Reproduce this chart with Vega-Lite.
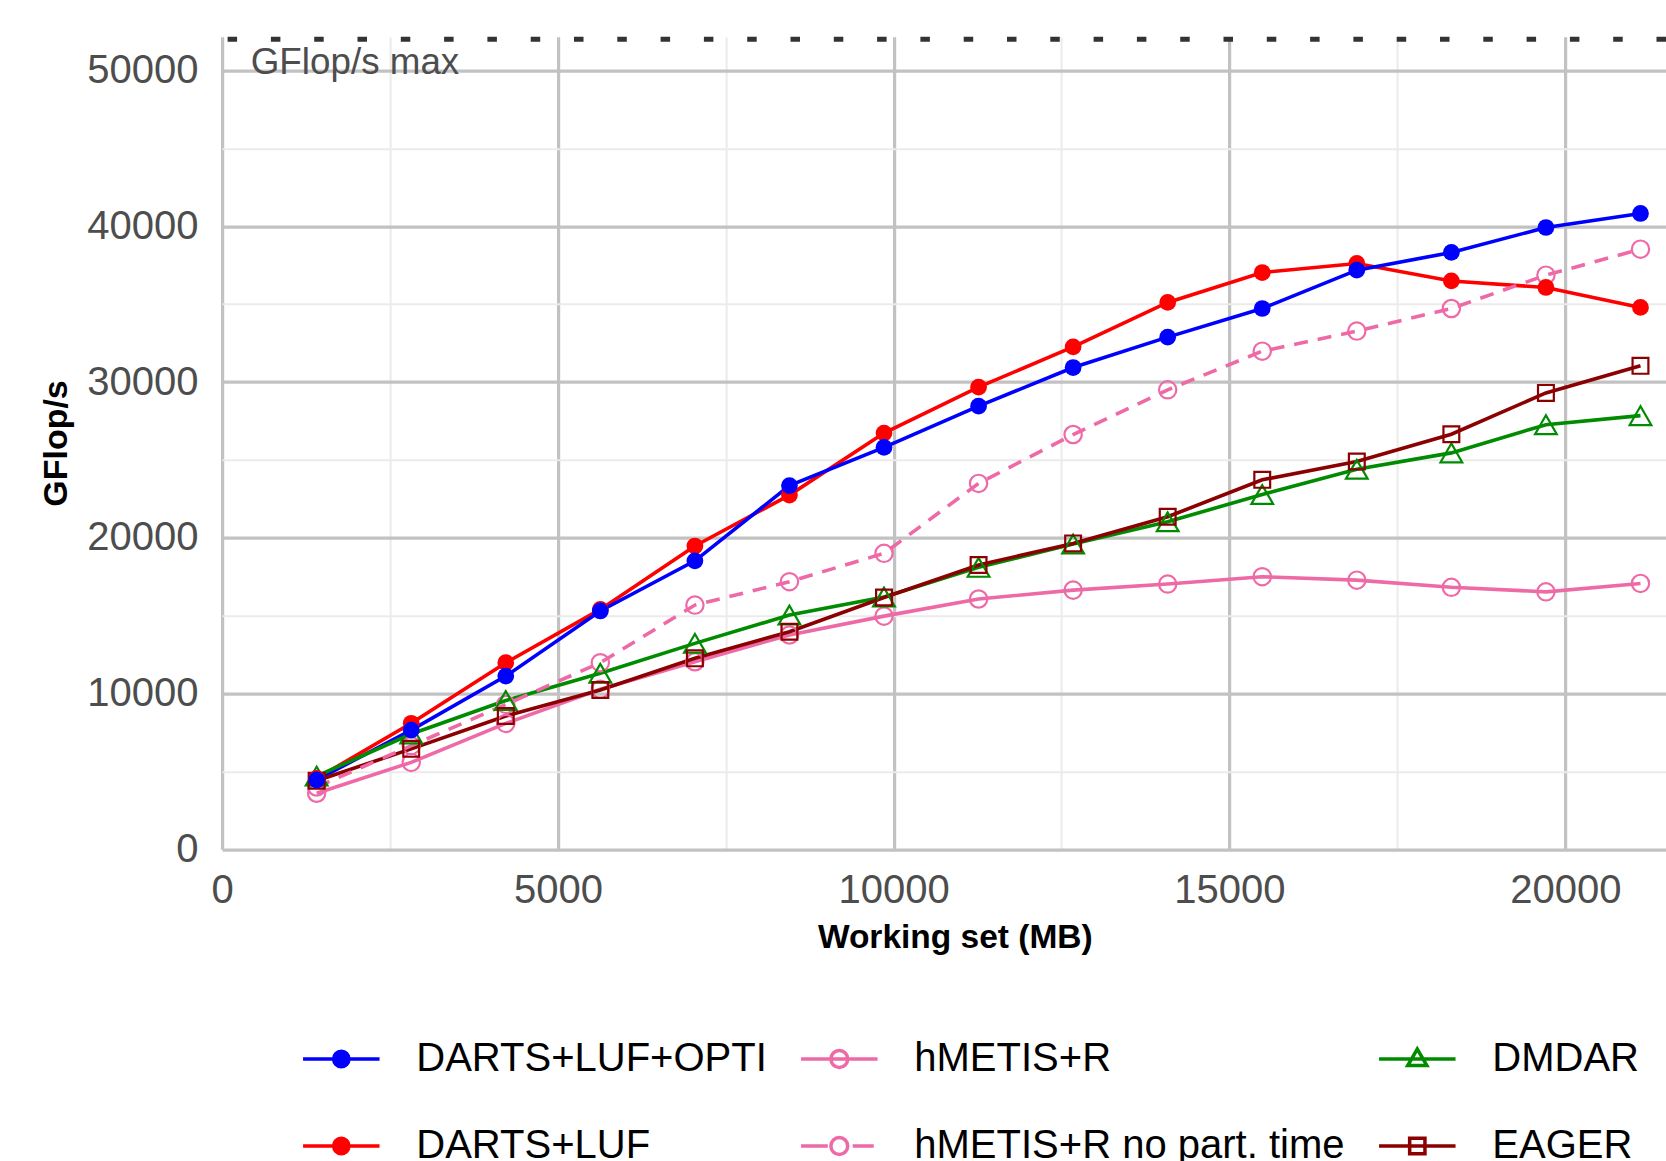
{
  "$schema": "https://vega.github.io/schema/vega-lite/v6.json",
  "autosize": {"type": "none"},
  "padding": {"left": 222.1, "top": 36.7, "right": 0, "bottom": 311.7},
  "width": 1443.9,
  "height": 812.6,
  "background": "white",
  "config": {
    "font": "Liberation Sans",
    "view": {"stroke": null}
  },
  "layer": [
    {
      "data": {"values": [{"label": "GFlop/s max", "max": 52000}]},
      "mark": {"type": "rule", "color": "#333333", "strokeWidth": 5, "strokeDash": [9.5, 33.8]},
      "encoding": {"y": {"field": "max", "type": "quantitative"}}
    },
    {
      "data": {"values": [{"label": "GFlop/s max", "max": 52000}]},
      "mark": {"type": "text", "align": "left", "baseline": "top", "dx": 28.6, "dy": 5.5, "fontSize": 36.8, "color": "#4D4D4D", "font": "Liberation Sans"},
      "encoding": {
        "x": {"datum": 0, "type": "quantitative"},
        "y": {"field": "max", "type": "quantitative"},
        "text": {"field": "label"}
      }
    },
    {
      "data": {"values": [
        {"series": "DARTS+LUF", "x": 1408, "y": 4550},
        {"series": "DARTS+LUF", "x": 2816, "y": 8090},
        {"series": "DARTS+LUF", "x": 4224, "y": 11980},
        {"series": "DARTS+LUF", "x": 5632, "y": 15400},
        {"series": "DARTS+LUF", "x": 7040, "y": 19470},
        {"series": "DARTS+LUF", "x": 8448, "y": 22740},
        {"series": "DARTS+LUF", "x": 9856, "y": 26720},
        {"series": "DARTS+LUF", "x": 11264, "y": 29670},
        {"series": "DARTS+LUF", "x": 12672, "y": 32260},
        {"series": "DARTS+LUF", "x": 14080, "y": 35110},
        {"series": "DARTS+LUF", "x": 15488, "y": 37030},
        {"series": "DARTS+LUF", "x": 16896, "y": 37610},
        {"series": "DARTS+LUF", "x": 18304, "y": 36490},
        {"series": "DARTS+LUF", "x": 19712, "y": 36070},
        {"series": "DARTS+LUF", "x": 21120, "y": 34790},
        {"series": "DARTS+LUF+OPTI", "x": 1408, "y": 4450},
        {"series": "DARTS+LUF+OPTI", "x": 2816, "y": 7650},
        {"series": "DARTS+LUF+OPTI", "x": 4224, "y": 11120},
        {"series": "DARTS+LUF+OPTI", "x": 5632, "y": 15300},
        {"series": "DARTS+LUF+OPTI", "x": 7040, "y": 18520},
        {"series": "DARTS+LUF+OPTI", "x": 8448, "y": 23350},
        {"series": "DARTS+LUF+OPTI", "x": 9856, "y": 25800},
        {"series": "DARTS+LUF+OPTI", "x": 11264, "y": 28450},
        {"series": "DARTS+LUF+OPTI", "x": 12672, "y": 30930},
        {"series": "DARTS+LUF+OPTI", "x": 14080, "y": 32880},
        {"series": "DARTS+LUF+OPTI", "x": 15488, "y": 34720},
        {"series": "DARTS+LUF+OPTI", "x": 16896, "y": 37180},
        {"series": "DARTS+LUF+OPTI", "x": 18304, "y": 38320},
        {"series": "DARTS+LUF+OPTI", "x": 19712, "y": 39920},
        {"series": "DARTS+LUF+OPTI", "x": 21120, "y": 40820},
        {"series": "hMETIS+R", "x": 1408, "y": 3600},
        {"series": "hMETIS+R", "x": 2816, "y": 5580},
        {"series": "hMETIS+R", "x": 4224, "y": 8080},
        {"series": "hMETIS+R", "x": 5632, "y": 10270},
        {"series": "hMETIS+R", "x": 7040, "y": 12040},
        {"series": "hMETIS+R", "x": 8448, "y": 13760},
        {"series": "hMETIS+R", "x": 9856, "y": 14970},
        {"series": "hMETIS+R", "x": 11264, "y": 16070},
        {"series": "hMETIS+R", "x": 12672, "y": 16640},
        {"series": "hMETIS+R", "x": 14080, "y": 17030},
        {"series": "hMETIS+R", "x": 15488, "y": 17500},
        {"series": "hMETIS+R", "x": 16896, "y": 17280},
        {"series": "hMETIS+R", "x": 18304, "y": 16820},
        {"series": "hMETIS+R", "x": 19712, "y": 16530},
        {"series": "hMETIS+R", "x": 21120, "y": 17070},
        {"series": "hMETIS+R no part. time", "x": 1408, "y": 4000},
        {"series": "hMETIS+R no part. time", "x": 2816, "y": 6650},
        {"series": "hMETIS+R no part. time", "x": 4224, "y": 9300},
        {"series": "hMETIS+R no part. time", "x": 5632, "y": 11980},
        {"series": "hMETIS+R no part. time", "x": 7040, "y": 15680},
        {"series": "hMETIS+R no part. time", "x": 8448, "y": 17180},
        {"series": "hMETIS+R no part. time", "x": 9856, "y": 19000},
        {"series": "hMETIS+R no part. time", "x": 11264, "y": 23490},
        {"series": "hMETIS+R no part. time", "x": 12672, "y": 26630},
        {"series": "hMETIS+R no part. time", "x": 14080, "y": 29500},
        {"series": "hMETIS+R no part. time", "x": 15488, "y": 31980},
        {"series": "hMETIS+R no part. time", "x": 16896, "y": 33270},
        {"series": "hMETIS+R no part. time", "x": 18304, "y": 34720},
        {"series": "hMETIS+R no part. time", "x": 19712, "y": 36860},
        {"series": "hMETIS+R no part. time", "x": 21120, "y": 38530},
        {"series": "DMDAR", "x": 1408, "y": 4700},
        {"series": "DMDAR", "x": 2816, "y": 7400},
        {"series": "DMDAR", "x": 4224, "y": 9550},
        {"series": "DMDAR", "x": 5632, "y": 11300},
        {"series": "DMDAR", "x": 7040, "y": 13220},
        {"series": "DMDAR", "x": 8448, "y": 15040},
        {"series": "DMDAR", "x": 9856, "y": 16200},
        {"series": "DMDAR", "x": 11264, "y": 18100},
        {"series": "DMDAR", "x": 12672, "y": 19600},
        {"series": "DMDAR", "x": 14080, "y": 21030},
        {"series": "DMDAR", "x": 15488, "y": 22780},
        {"series": "DMDAR", "x": 16896, "y": 24400},
        {"series": "DMDAR", "x": 18304, "y": 25450},
        {"series": "DMDAR", "x": 19712, "y": 27260},
        {"series": "DMDAR", "x": 21120, "y": 27840},
        {"series": "EAGER", "x": 1408, "y": 4400},
        {"series": "EAGER", "x": 2816, "y": 6450},
        {"series": "EAGER", "x": 4224, "y": 8560},
        {"series": "EAGER", "x": 5632, "y": 10230},
        {"series": "EAGER", "x": 7040, "y": 12260},
        {"series": "EAGER", "x": 8448, "y": 13970},
        {"series": "EAGER", "x": 9856, "y": 16170},
        {"series": "EAGER", "x": 11264, "y": 18250},
        {"series": "EAGER", "x": 12672, "y": 19640},
        {"series": "EAGER", "x": 14080, "y": 21350},
        {"series": "EAGER", "x": 15488, "y": 23720},
        {"series": "EAGER", "x": 16896, "y": 24900},
        {"series": "EAGER", "x": 18304, "y": 26650},
        {"series": "EAGER", "x": 19712, "y": 29300},
        {"series": "EAGER", "x": 21120, "y": 31040}
      ]},
      "encoding": {
        "x": {
          "field": "x", "type": "quantitative",
          "scale": {"domain": [0, 21500], "nice": false, "zero": false},
          "axis": {
            "values": [0, 2500, 5000, 7500, 10000, 12500, 15000, 17500, 20000],
            "format": "d",
            "labelExpr": "datum.value % 5000 === 0 ? datum.label : ''",
            "grid": true,
            "gridColor": {"condition": {"test": "datum.value % 5000 === 0", "value": "#C2C2C2"}, "value": "#EBEBEB"},
            "gridWidth": {"condition": {"test": "datum.value % 5000 === 0", "value": 3.2}, "value": 2},
            "domain": false, "ticks": false, "tickSize": 0,
            "labelFlush": false, "labelOverlap": false,
            "labelFontSize": 40, "labelColor": "#4D4D4D", "labelPadding": 21, "labelFont": "Liberation Sans",
            "title": "Working set (MB)", "titleFont": "Liberation Sans", "titleFontSize": 33.5, "titleFontWeight": "bold", "titleColor": "#000000",
            "titleX": 732.7, "titleY": 97.7, "titleBaseline": "alphabetic", "titleAlign": "center"
          }
        },
        "y": {
          "field": "y", "type": "quantitative",
          "scale": {"domain": [0, 52170], "nice": false, "zero": false},
          "axis": {
            "values": [0, 5000, 10000, 15000, 20000, 25000, 30000, 35000, 40000, 45000, 50000],
            "format": "d",
            "labelExpr": "datum.value % 10000 === 0 ? datum.label : ''",
            "grid": true,
            "gridColor": {"condition": {"test": "datum.value % 10000 === 0", "value": "#C2C2C2"}, "value": "#EBEBEB"},
            "gridWidth": {"condition": {"test": "datum.value % 10000 === 0", "value": 3.2}, "value": 2},
            "domain": false, "ticks": false, "tickSize": 0,
            "labelFlush": false, "labelOverlap": false,
            "labelFontSize": 40, "labelColor": "#4D4D4D", "labelPadding": 24, "labelFont": "Liberation Sans",
            "title": "GFlop/s", "titleFont": "Liberation Sans", "titleFontSize": 34, "titleFontWeight": "bold", "titleColor": "#000000",
            "titleX": -156.1, "titleY": 406.3, "titleAngle": 270, "titleBaseline": "alphabetic", "titleAlign": "center"
          }
        },
        "color": {
          "field": "series", "type": "nominal",
          "scale": {
            "domain": ["DARTS+LUF+OPTI", "DARTS+LUF", "hMETIS+R", "hMETIS+R no part. time", "DMDAR", "EAGER"],
            "range": ["#0000FF", "#FF0000", "#EE6AA7", "#EE6AA7", "#008B00", "#8B0000"]
          },
          "legend": {
            "orient": "none", "legendX": 79.2, "legendY": 982.3,
            "columns": 3, "title": null, "padding": 0,
            "symbolSize": 5852, "symbolStrokeWidth": 3.5, "symbolOpacity": 1,
            "labelFont": "Liberation Sans", "labelFontSize": 40, "labelColor": "#000000", "labelLimit": 2000,
            "labelOffset": 35, "columnPadding": 26, "rowPadding": 27
          }
        }
      },
      "layer": [
        {
          "transform": [{"filter": "datum.series !== 'hMETIS+R no part. time'"}],
          "mark": {"type": "line", "strokeWidth": 3.6}
        },
        {
          "transform": [{"filter": "datum.series === 'hMETIS+R no part. time'"}],
          "mark": {"type": "line", "strokeWidth": 3.6, "strokeDash": [14, 10]}
        },
        {
          "transform": [{"filter": "datum.series === 'hMETIS+R' || datum.series === 'hMETIS+R no part. time'"}],
          "mark": {"type": "point", "filled": false, "shape": "circle", "size": 300, "strokeWidth": 2.2, "opacity": 1}
        },
        {
          "transform": [{"filter": "datum.series === 'DMDAR'"}],
          "mark": {"type": "point", "filled": false, "shape": "triangle-up", "size": 470, "strokeWidth": 2.2, "opacity": 1}
        },
        {
          "transform": [{"filter": "datum.series === 'EAGER'"}],
          "mark": {"type": "point", "filled": false, "shape": "square", "size": 250, "strokeWidth": 2.2, "opacity": 1}
        },
        {
          "transform": [{"filter": "datum.series === 'DARTS+LUF+OPTI' || datum.series === 'DARTS+LUF'"}],
          "mark": {"type": "point", "filled": true, "shape": "circle", "size": 280, "opacity": 1},
          "encoding": {
            "color": {"value": "#000000"},
            "fill": {
              "field": "series", "type": "nominal",
              "scale": {
                "domain": ["DARTS+LUF+OPTI", "DARTS+LUF", "hMETIS+R", "hMETIS+R no part. time", "DMDAR", "EAGER"],
                "range": ["#0000FF", "#FF0000", "transparent", "transparent", "transparent", "transparent"]
              },
              "legend": {
                "orient": "none", "legendX": 79.2, "legendY": 982.3,
                "columns": 3, "title": null, "padding": 0,
                "symbolSize": 5852, "symbolStrokeWidth": 3.5, "symbolOpacity": 1,
                "labelFont": "Liberation Sans", "labelFontSize": 40, "labelColor": "#000000", "labelLimit": 2000,
                "labelOffset": 35, "columnPadding": 26, "rowPadding": 27
              }
            }
          }
        },
        {
          "transform": [{"filter": "false"}],
          "mark": {"type": "point", "filled": false, "opacity": 1},
          "encoding": {
            "shape": {
              "field": "series", "type": "nominal",
              "scale": {
                "domain": ["DARTS+LUF+OPTI", "DARTS+LUF", "hMETIS+R", "hMETIS+R no part. time", "DMDAR", "EAGER"],
                "range": [
                  "M-1,0H1M0.2,0A0.2,0.2,0,1,1,-0.2,0A0.2,0.2,0,1,1,0.2,0Z",
                  "M-1,0H1M0.2,0A0.2,0.2,0,1,1,-0.2,0A0.2,0.2,0,1,1,0.2,0Z",
                  "M-1,0H1M0.22,0A0.22,0.22,0,1,1,-0.22,0A0.22,0.22,0,1,1,0.22,0Z",
                  "M-1,0H-0.3M0.35,0H0.9M0.22,0A0.22,0.22,0,1,1,-0.22,0A0.22,0.22,0,1,1,0.22,0Z",
                  "M-1,0H1M0,-0.26L0.25,0.17L-0.25,0.17Z",
                  "M-1,0H1M-0.2,-0.2H0.2V0.2H-0.2Z"
                ]
              },
              "legend": {
                "orient": "none", "legendX": 79.2, "legendY": 982.3,
                "columns": 3, "title": null, "padding": 0,
                "symbolSize": 5852, "symbolStrokeWidth": 3.5, "symbolOpacity": 1,
                "labelFont": "Liberation Sans", "labelFontSize": 40, "labelColor": "#000000", "labelLimit": 2000,
                "labelOffset": 35, "columnPadding": 26, "rowPadding": 27
              }
            },
            "fill": {
              "field": "series", "type": "nominal",
              "scale": {
                "domain": ["DARTS+LUF+OPTI", "DARTS+LUF", "hMETIS+R", "hMETIS+R no part. time", "DMDAR", "EAGER"],
                "range": ["#0000FF", "#FF0000", "transparent", "transparent", "transparent", "transparent"]
              },
              "legend": {
                "orient": "none", "legendX": 79.2, "legendY": 982.3,
                "columns": 3, "title": null, "padding": 0,
                "symbolSize": 5852, "symbolStrokeWidth": 3.5, "symbolOpacity": 1,
                "labelFont": "Liberation Sans", "labelFontSize": 40, "labelColor": "#000000", "labelLimit": 2000,
                "labelOffset": 35, "columnPadding": 26, "rowPadding": 27
              }
            }
          }
        }
      ]
    }
  ]
}
